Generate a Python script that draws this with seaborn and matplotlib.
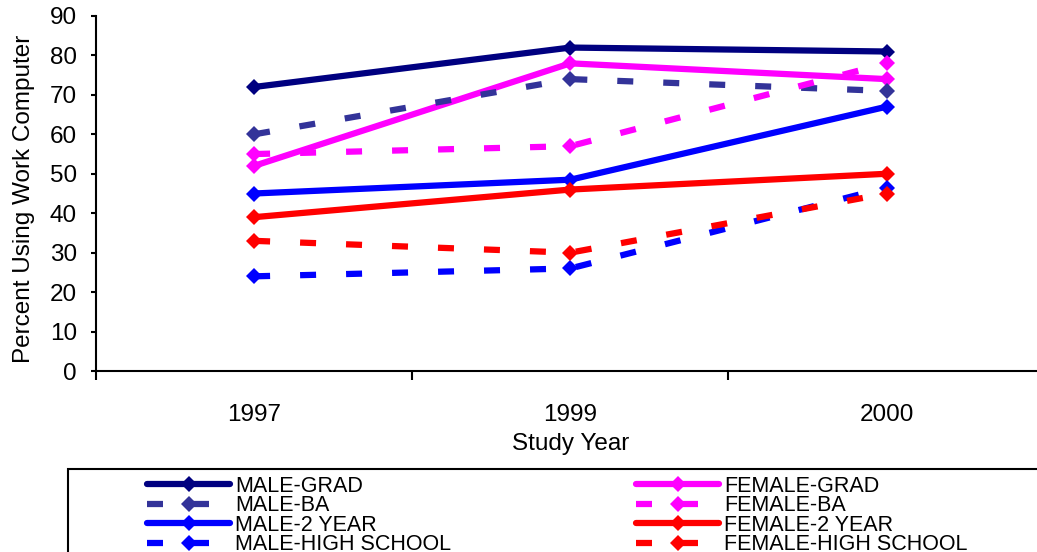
import matplotlib
matplotlib.use("Agg")
import matplotlib.pyplot as plt
import matplotlib.patches as mpatches
import seaborn as sns
import pandas as pd

# ---- data ----
years = ["1997", "1999", "2000"]
series_names = ["MALE-GRAD", "FEMALE-GRAD", "MALE-BA", "FEMALE-BA",
                "MALE-2 YEAR", "FEMALE-2 YEAR", "MALE-HIGH SCHOOL", "FEMALE-HIGH SCHOOL"]
male_grad = [72, 82, 81]
female_grad = [52, 78, 74]
male_ba = [60, 74, 71]
female_ba = [55, 57, 78]
male_2yr = [45, 48.5, 67]
female_2yr = [39, 46, 50]
male_hs = [24, 26, 46.5]
female_hs = [33, 30, 45]
y_ticks = [0, 10, 20, 30, 40, 50, 60, 70, 80, 90]

values = [male_grad, female_grad, male_ba, female_ba,
          male_2yr, female_2yr, male_hs, female_hs]

colors = {"MALE-GRAD": "#000080", "FEMALE-GRAD": "#FF00FF",
          "MALE-BA": "#333399", "FEMALE-BA": "#FF00FF",
          "MALE-2 YEAR": "#0000FF", "FEMALE-2 YEAR": "#FF0000",
          "MALE-HIGH SCHOOL": "#0000FF", "FEMALE-HIGH SCHOOL": "#FF0000"}
dash = (2.56, 4.8)
dashes = {"MALE-GRAD": "", "FEMALE-GRAD": "",
          "MALE-BA": dash, "FEMALE-BA": dash,
          "MALE-2 YEAR": "", "FEMALE-2 YEAR": "",
          "MALE-HIGH SCHOOL": dash, "FEMALE-HIGH SCHOOL": dash}
markers = {n: "D" for n in series_names}

rows = []
for name, vals in zip(series_names, values):
    for yr, v in zip(years, vals):
        rows.append({"year": yr, "pct": v, "series": name})
df = pd.DataFrame(rows)

sns.set_theme(style="white")
plt.rcParams["font.family"] = ["Liberation Sans", "DejaVu Sans"]
plt.rcParams["text.color"] = "black"
plt.rcParams["axes.labelcolor"] = "black"
plt.rcParams["xtick.color"] = "black"
plt.rcParams["ytick.color"] = "black"

W, H = 1037, 552
fig = plt.figure(figsize=(W / 100, H / 100), dpi=100)
ax = fig.add_axes([96 / W, (H - 371) / H, 948.6 / W, 355 / H])

sns.lineplot(data=df, x="year", y="pct", hue="series", style="series",
             hue_order=series_names, style_order=series_names,
             palette=colors, dashes=dashes, markers=markers,
             linewidth=4.5, markersize=8, markeredgewidth=0,
             solid_capstyle="round", errorbar=None, sort=False,
             legend=False, ax=ax)

ax.set_xlim(-0.5, 2.5)
ax.set_ylim(0, 90)
ax.set_yticks(y_ticks)
ax.set_yticklabels([str(t) for t in y_ticks])
ax.set_xticks([-0.5, 0.5, 1.5, 2.5])
ax.set_xticklabels([])
ax.set_xticks([0, 1, 2], minor=True)
ax.set_xticklabels(years, minor=True)
ax.tick_params(axis="x", which="major", direction="out", length=6.5, width=1.5,
               color="black", bottom=True)
ax.tick_params(axis="x", which="minor", length=0, pad=23.5, labelsize=17.5,
               labelcolor="black", bottom=True)
ax.tick_params(axis="y", direction="out", length=3.6, width=1.5, pad=10,
               labelsize=17.5, labelcolor="black", left=True, color="black")
for s in ["top", "right"]:
    ax.spines[s].set_visible(False)
for s in ["left", "bottom"]:
    ax.spines[s].set_color("black")
    ax.spines[s].set_linewidth(1.5)
ax.grid(False)

ax.set_xlabel("Study Year", fontsize=17.5, color="black")
ax.set_ylabel("Percent Using Work Computer", fontsize=17.5, color="black")
ax.xaxis.set_label_coords(0.5, -0.176)
ax.yaxis.set_label_coords(-0.0638, 0.485)

# legend
lines = ax.get_lines()[:8]
col1 = [0, 2, 4, 6]
col2 = [1, 3, 5, 7]
leg_kw = dict(loc="upper left", frameon=False, borderpad=0, borderaxespad=0,
              handlelength=3.86, handletextpad=0.23, labelspacing=-0.07,
              fontsize=15.5, numpoints=1, labelcolor="black")
fig.legend([lines[i] for i in col1], [series_names[i] for i in col1],
           bbox_to_anchor=(147 / W, (H - 476) / H), **leg_kw)
fig.legend([lines[i] for i in col2], [series_names[i] for i in col2],
           bbox_to_anchor=(636 / W, (H - 476) / H), **leg_kw)

box = mpatches.Rectangle((67.7 / W, -0.5), 1.5, (H - 469) / H + 0.5,
                         transform=fig.transFigure, fill=False,
                         edgecolor="black", linewidth=1.5, clip_on=False)
fig.add_artist(box)

fig.savefig("out.png", dpi=100, facecolor="white")
